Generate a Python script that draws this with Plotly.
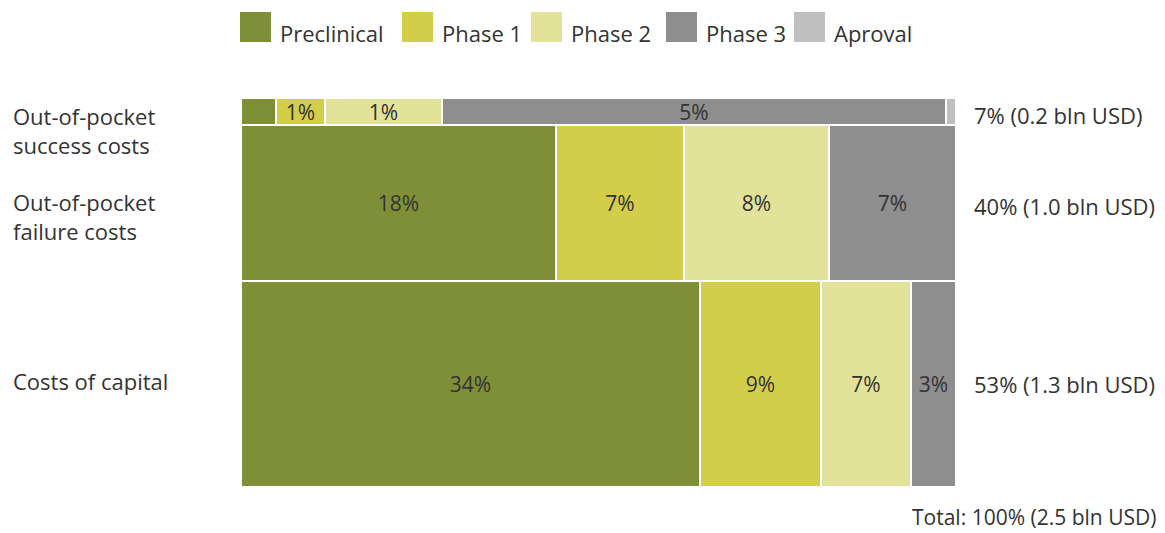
import plotly.graph_objects as go

# ---- data ----
phases = ["Preclinical", "Phase 1", "Phase 2", "Phase 3", "Aproval"]
colors = ["#7F8F38", "#D2CE4A", "#E2E29A", "#8E8E8E", "#BFBFBF"]

rows = ["Out-of-pocket<br>success costs", "Out-of-pocket<br>failure costs", "Costs of capital"]
row_share = [7, 40, 53]                     # % of total cost
row_labels = ["7% (0.2 bln USD)", "40% (1.0 bln USD)", "53% (1.3 bln USD)"]
total_label = "Total: 100% (2.5 bln USD)"

# share of total cost per phase (rows: success, failure, capital)
success_vals = [0.34, 0.48, 1.15, 4.93, 0.10]
failure_vals = [17.6, 7.2, 8.1, 7.1, 0.0]
capital_vals = [34.0, 9.0, 6.7, 3.3, 0.0]

success_txt = ["", "1%", "1%", "5%", ""]
failure_txt = ["18%", "7%", "8%", "7%", ""]
capital_txt = ["34%", "9%", "7%", "3%", ""]

vals = [success_vals, failure_vals, capital_vals]
txts = [success_txt, failure_txt, capital_txt]

FONT = "Open Sans"
TXT = "#333333"
FS = 22

# row centres on a 0..100 vertical scale (success at top)
centers = []
top = 100.0
for s in row_share:
    centers.append(top - s / 2)
    top -= s

fig = go.Figure()
for j, ph in enumerate(phases):
    xs = [vals[i][j] / row_share[i] * 100 for i in range(3)]
    fig.add_trace(go.Bar(
        orientation="h",
        y=centers,
        x=xs,
        width=row_share,
        name=ph,
        marker=dict(color=colors[j], line=dict(color="white", width=2)),
        text=[txts[i][j] for i in range(3)],
        textposition="inside",
        insidetextanchor="middle",
        constraintext="none",
        textangle=0,
        textfont=dict(family=FONT, size=FS - 1, color=TXT),
        showlegend=False,
        hoverinfo="x+name",
    ))

L, R, T, B = 241, 209, 98, 46
W, H = 1165, 533
pw, ph_ = W - L - R, H - T - B

def px(x):
    return (x - L) / pw

def py(y):
    return (H - B - y) / ph_

ann = []
shapes = []
# custom legend
leg_x = [240, 402, 531, 666, 794]
for j, ph in enumerate(phases):
    shapes.append(dict(type="rect", xref="paper", yref="paper",
                       x0=px(leg_x[j]), x1=px(leg_x[j] + 31),
                       y0=py(42), y1=py(12),
                       fillcolor=colors[j], line=dict(width=0)))
    ann.append(dict(text=ph, xref="paper", yref="paper",
                    x=px(leg_x[j] + 38), y=py(33), xanchor="left", yanchor="middle",
                    showarrow=False, font=dict(family=FONT, size=FS, color=TXT)))

left_y = [130, 216, 381]
right_y = [115, 206, 384]
for i in range(3):
    ann.append(dict(text=rows[i], xref="paper", yref="paper",
                    x=px(11), y=py(left_y[i]), xanchor="left", yanchor="middle",
                    align="left", showarrow=False,
                    font=dict(family=FONT, size=FS, color=TXT)))
    ann.append(dict(text=row_labels[i], xref="paper", yref="paper",
                    x=px(972), y=py(right_y[i]), xanchor="left", yanchor="middle",
                    showarrow=False, font=dict(family=FONT, size=FS, color=TXT)))
ann.append(dict(text=total_label, xref="paper", yref="paper",
                x=px(1158), y=py(517), xanchor="right", yanchor="middle",
                showarrow=False, font=dict(family=FONT, size=FS - 1, color=TXT)))

fig.update_layout(
    width=W, height=H,
    margin=dict(l=L, r=R, t=T, b=B),
    barmode="stack",
    bargap=0,
    plot_bgcolor="white",
    paper_bgcolor="white",
    xaxis=dict(range=[0, 100], visible=False, fixedrange=True),
    yaxis=dict(range=[0, 100], visible=False, fixedrange=True),
    annotations=ann,
    shapes=shapes,
)

fig.write_html("out.html")
